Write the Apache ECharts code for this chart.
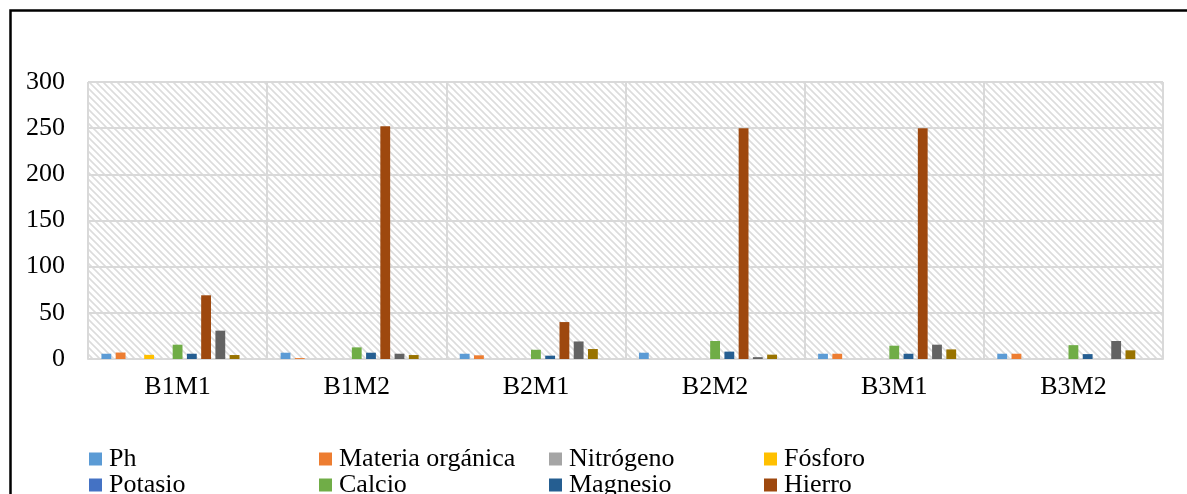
<!DOCTYPE html>
<html>
<head>
<meta charset="utf-8">
<script src="https://cdn.jsdelivr.net/npm/echarts@6/dist/echarts.min.js"></script>
<style>
  html, body { margin: 0; padding: 0; background: #fff; }
  #main { width: 1187px; height: 494px; }
</style>
</head>
<body>
<div id="main"></div>
<script>
const categories = ['B1M1', 'B1M2', 'B2M1', 'B2M2', 'B3M1', 'B3M2'];
const yTicks = [0, 50, 100, 150, 200, 250, 300];

const ph        = [5.7, 6.8, 5.7, 6.8, 5.7, 5.7];
const materia   = [7, 1, 4, 0, 5.7, 5.7];
const nitrogeno = [0, 0, 0, 0, 0, 0];
const fosforo   = [4.5, 0, 0, 0, 0, 0];
const potasio   = [0, 0, 0, 0, 0, 0];
const calcio    = [15.5, 12.6, 10, 19.5, 14.4, 15];
const magnesio  = [5.7, 6.8, 3.6, 8, 5.7, 5.3];
const hierro    = [69, 252, 40, 250, 250, 0];
const manganeso = [30.7, 5.7, 19, 2, 15.5, 19.5];
const cobre     = [4.3, 4.3, 10.8, 4.7, 10.4, 9.4];
const zinc      = [0, 0, 0, 0, 0, 0];

const seriesNames = ['Ph', 'Materia orgánica', 'Nitrógeno', 'Fósforo', 'Potasio', 'Calcio',
  'Magnesio', 'Hierro', 'Manganeso', 'Cobre', 'Zinc'];
const seriesData = [ph, materia, nitrogeno, fosforo, potasio, calcio, magnesio, hierro, manganeso, cobre, zinc];
const colors = ['#5B9BD5', '#ED7D31', '#A5A5A5', '#FFC000', '#4472C4', '#70AD47',
  '#255E91', '#9E480E', '#636363', '#997300', '#264478'];

// hatch pattern for the plot background
const tile = document.createElement('canvas');
tile.width = 7; tile.height = 7;
const ctx = tile.getContext('2d');
ctx.fillStyle = '#fff';
ctx.fillRect(0, 0, 7, 7);
ctx.strokeStyle = '#dcdcdc';
ctx.lineWidth = 1.6;
ctx.beginPath();
ctx.moveTo(-1, -1); ctx.lineTo(8, 8);
ctx.moveTo(-1, 6); ctx.lineTo(1, 8);
ctx.moveTo(6, -1); ctx.lineTo(8, 1);
ctx.stroke();

const font = '"Liberation Serif", "Times New Roman", serif';

// only the first two legend rows are visible in the picture
const legendItems = [0, 1, 2, 3, 4, 5, 6, 7];
const legendLeft = [89, 319, 549, 764];
const legendTop = [446, 472];

const chart = echarts.init(document.getElementById('main'));
chart.setOption({
  animation: false,
  color: colors,
  graphic: [{
    type: 'rect',
    shape: { x: 10.5, y: 10.5, width: 1200, height: 520 },
    style: { fill: 'none', stroke: '#000', lineWidth: 2.5 },
    silent: true
  }],
  legend: legendItems.map((k, i) => ({
    left: legendLeft[i % 4],
    top: legendTop[Math.floor(i / 4)],
    padding: 0,
    itemWidth: 13,
    itemHeight: 13,
    icon: 'rect',
    selectedMode: false,
    data: [seriesNames[k]],
    textStyle: { fontFamily: font, fontSize: 26, color: '#000', lineHeight: 26, padding: [0, 0, 0, 2] }
  })),
  grid: {
    left: 88, right: 24, top: 82, bottom: 135,
    show: true,
    borderWidth: 0,
    backgroundColor: { image: tile, repeat: 'repeat' }
  },
  xAxis: {
    type: 'category',
    data: categories,
    axisTick: { show: false },
    axisLine: { lineStyle: { color: '#d9d9d9', width: 2 } },
    splitLine: { show: true, lineStyle: { color: '#d9d9d9', width: 2 } },
    axisLabel: { fontFamily: font, fontSize: 26, color: '#000', margin: 15 }
  },
  yAxis: {
    type: 'value',
    min: yTicks[0],
    max: yTicks[yTicks.length - 1],
    interval: 50,
    axisLine: { show: false },
    axisTick: { show: false },
    splitLine: { lineStyle: { color: '#d9d9d9', width: 2 } },
    axisLabel: { fontFamily: font, fontSize: 26, color: '#000', margin: 23 }
  },
  series: seriesNames.map((name, i) => ({
    name: name,
    type: 'bar',
    data: seriesData[i],
    barGap: '45%',
    barCategoryGap: '15%',
    itemStyle: { color: colors[i] }
  }))
});
</script>
</body>
</html>
